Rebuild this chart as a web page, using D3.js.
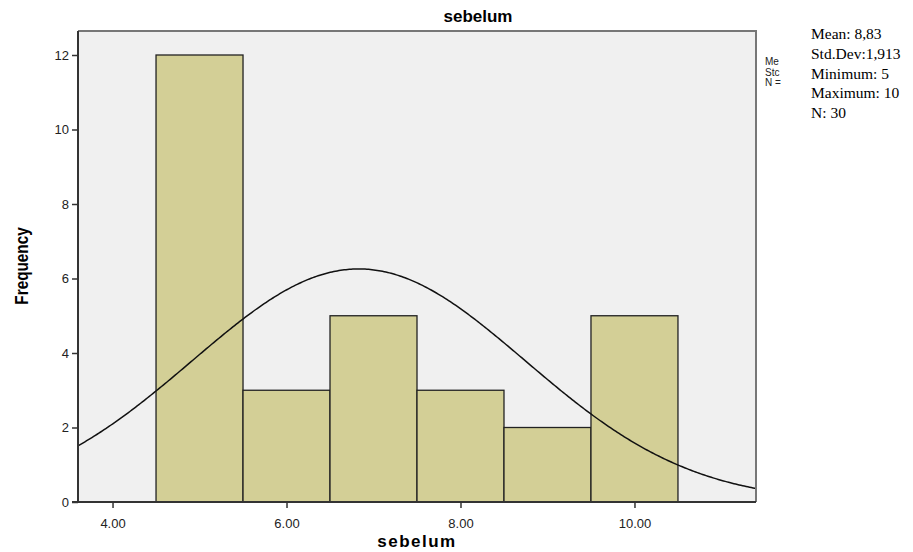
<!DOCTYPE html>
<html><head><meta charset="utf-8">
<script src="https://cdn.jsdelivr.net/npm/d3@7"></script>
<style>body{margin:0;background:#fff;} svg{display:block;}</style>
</head><body>
<svg id="c" width="913" height="552"></svg>
<script>
const binCenters = [5, 6, 7, 8, 9, 10];
const frequencies = [12, 3, 5, 3, 2, 5];
const xTicks = [4, 6, 8, 10];
const yTicks = [0, 2, 4, 6, 8, 10, 12];
const fitMean = 6.83, fitSd = 1.913, fitN = 30, binWidth = 1;
const statLines = ["Mean: 8,83", "Std.Dev:1,913", "Minimum: 5", "Maximum: 10", "N: 30"];
const clippedLegend = ["Me", "Stc", "N ="];

const svg = d3.select("#c");
const L = 78, R = 756, T = 31, B = 502;
const x = d3.scaleLinear().domain([3.603, 11.397]).range([L, R]);
const y = d3.scaleLinear().domain([0, 12]).range([B, 55]);

svg.append("rect").attr("x", L).attr("y", T).attr("width", R - L).attr("height", B - T).attr("fill", "#f0f0f0");

svg.append("clipPath").attr("id", "pc").append("rect").attr("x", L).attr("y", T).attr("width", R - L).attr("height", B - T);

svg.append("g").selectAll("rect").data(binCenters).join("rect")
  .attr("x", d => x(d - binWidth / 2))
  .attr("y", (d, i) => y(frequencies[i]))
  .attr("width", d => x(d + binWidth / 2) - x(d - binWidth / 2))
  .attr("height", (d, i) => y(0) - y(frequencies[i]))
  .attr("fill", "#d3cf96").attr("stroke", "#222").attr("stroke-width", 1.3);

const xs = d3.range(x.domain()[0], x.domain()[1] + 0.02, 0.02);
const dens = v => fitN * binWidth / (fitSd * Math.sqrt(2 * Math.PI)) * Math.exp(-0.5 * Math.pow((v - fitMean) / fitSd, 2));
svg.append("path").attr("clip-path", "url(#pc)")
  .datum(xs)
  .attr("d", d3.line().x(d => x(d)).y(d => y(dens(d))))
  .attr("fill", "none").attr("stroke", "#111").attr("stroke-width", 1.5);

// frame
svg.append("path").attr("d", `M${L},${T}H${R}V${B}`).attr("fill", "none").attr("stroke", "#777").attr("stroke-width", 2);

const xAxis = svg.append("g").attr("transform", `translate(0,${B})`)
  .call(d3.axisBottom(x).tickValues(xTicks).tickFormat(d3.format(".2f")).tickSize(6).tickSizeOuter(0));
const yAxis = svg.append("g").attr("transform", `translate(${L},0)`)
  .call(d3.axisLeft(y).tickValues(yTicks).tickFormat(d3.format("d")).tickSize(6).tickSizeOuter(0));
[xAxis, yAxis].forEach(a => {
  a.select(".domain").attr("stroke", "#333").attr("stroke-width", 2);
  a.selectAll(".tick line").attr("stroke", "#333").attr("stroke-width", 1.5);
  a.selectAll("text").attr("font-family", "Liberation Sans, Arial, sans-serif").attr("font-size", 13).attr("fill", "#222");
});
yAxis.select(".domain").attr("d", `M0,${T}V${B}`);
xAxis.select(".domain").attr("d", `M${L - 6},0H${R}`);
xAxis.selectAll("text").attr("dy", "1.3em");

svg.append("text").attr("x", 478).attr("y", 22).attr("text-anchor", "middle")
  .attr("font-family", "Liberation Sans, Arial, sans-serif").attr("font-size", 17).attr("font-weight", "bold").text("sebelum");
svg.append("text").attr("x", 417).attr("y", 547).attr("text-anchor", "middle")
  .attr("font-family", "Liberation Sans, Arial, sans-serif").attr("font-size", 17).attr("font-weight", "bold").attr("letter-spacing", 1.5).text("sebelum");
svg.append("text").attr("text-anchor", "middle")
  .attr("font-family", "Liberation Sans, Arial, sans-serif").attr("font-size", 18).attr("font-weight", "bold")
  .attr("transform", "translate(28,266) rotate(-90) scale(0.85,1)").text("Frequency");

svg.append("g").selectAll("text").data(clippedLegend).join("text")
  .attr("x", 765).attr("y", (d, i) => 65 + i * 10.5)
  .attr("font-family", "Liberation Sans, Arial, sans-serif").attr("font-size", 10).attr("fill", "#222").text(d => d);

svg.append("rect").attr("x", 806).attr("y", 22).attr("width", 107).attr("height", 110).attr("fill", "#fff");
svg.append("g").selectAll("text").data(statLines).join("text")
  .attr("x", 811).attr("y", (d, i) => 39 + i * 19.8)
  .attr("font-family", "Liberation Serif, Times New Roman, serif").attr("font-size", 15.5).attr("fill", "#000").text(d => d);
</script>
</body></html>
